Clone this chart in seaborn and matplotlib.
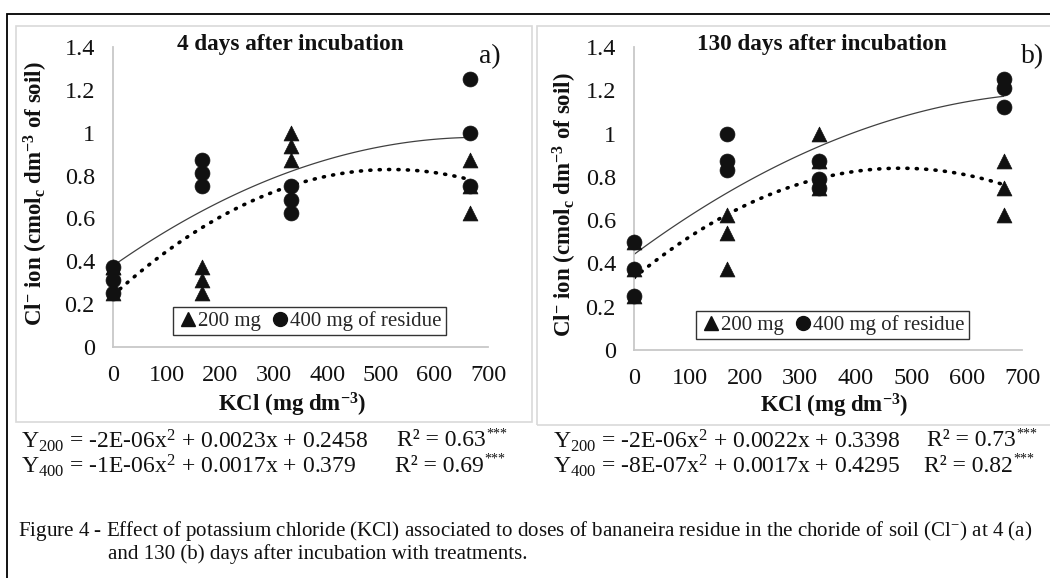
import numpy as np
import pandas as pd
import matplotlib
matplotlib.use("Agg")
import matplotlib.pyplot as plt
from matplotlib.patches import Rectangle
from matplotlib.lines import Line2D
import seaborn as sns

# ---------------- data ----------------
kcl_doses = [0, 167, 333, 667]          # mg dm-3 (3 replicates each)
n_reps = 3

a_200mg = [0.25, 0.375, 0.375, 0.375, 0.3125, 0.25, 1.0, 0.9375, 0.875, 0.875, 0.75, 0.625]
a_400mg = [0.375, 0.3125, 0.25, 0.875, 0.8125, 0.75, 0.75, 0.6875, 0.625, 1.25, 1.0, 0.75]
b_200mg = [0.5, 0.375, 0.25, 0.625, 0.5417, 0.375, 1.0, 0.875, 0.75, 0.875, 0.75, 0.625]
b_400mg = [0.5, 0.375, 0.25, 1.0, 0.875, 0.8333, 0.875, 0.7917, 0.75, 1.25, 1.2083, 1.125]

panel_titles = ["4 days after incubation", "130 days after incubation"]
panel_tags = ["a)", "b)"]
legend_labels = ["200 mg", "400 mg of residue"]
x_ticks = [0, 100, 200, 300, 400, 500, 600, 700]
y_ticks = [0, 0.2, 0.4, 0.6, 0.8, 1.0, 1.2, 1.4]
y_tick_labels = ["0", "0.2", "0.4", "0.6", "0.8", "1", "1.2", "1.4"]

eq_a = [r"Y$_{200}$ = -2E-06x$^{2}$ + 0.0023x + 0.2458", r"Y$_{400}$ = -1E-06x$^{2}$ + 0.0017x + 0.379"]
r2_a = ["R² = 0.63", "R² = 0.69"]
eq_b = [r"Y$_{200}$ = -2E-06x$^{2}$ + 0.0022x + 0.3398", r"Y$_{400}$ = -8E-07x$^{2}$ + 0.0017x + 0.4295"]
r2_b = ["R² = 0.73", "R² = 0.82"]
signif = "***"

caption1 = r"Figure 4 - Effect of potassium chloride (KCl) associated to doses of bananeira residue in the choride of soil (Cl$^{-}$) at 4 (a)"
caption2 = "and 130 (b) days after incubation with treatments."

# ---------------- style ----------------
sns.set_theme(style="white")
plt.rcParams["font.family"] = ["Liberation Serif", "DejaVu Serif"]
plt.rcParams["mathtext.fontset"] = "custom"
plt.rcParams["mathtext.rm"] = "Liberation Serif"
plt.rcParams["mathtext.it"] = "Liberation Serif:italic"
plt.rcParams["mathtext.bf"] = "Liberation Serif:bold"

W, H = 1050, 578
fig = plt.figure(figsize=(W / 100, H / 100), dpi=100)
fig.patch.set_facecolor("white")
INK = "#111111"


def fx(px):
    return px / W


def fy(py):
    return 1 - py / H


# outer black frame and gray panel frames
fig.add_artist(Rectangle((fx(7), fy(700)), 2.0, fy(14) - fy(700), transform=fig.transFigure,
                         fill=False, ec="black", lw=1.3))
fig.add_artist(Rectangle((fx(16), fy(422)), fx(532) - fx(16), fy(26) - fy(422), transform=fig.transFigure,
                         fill=False, ec="#d9d9d9", lw=1.2))
fig.add_artist(Rectangle((fx(537), fy(425)), fx(1080) - fx(537), fy(26) - fy(425), transform=fig.transFigure,
                         fill=False, ec="#d9d9d9", lw=1.2))

axes_px = [(113, 47, 488, 347), (634, 47, 1022, 350)]
panels = [(a_200mg, a_400mg), (b_200mg, b_400mg)]
title_pos = [(0.472, 1.008), (0.485, 1.008)]
tag_pos = [(1.005, 0.967), (1.028, 0.967)]
ylab_pos = [(-0.168, 0.51), (-0.143, 0.48)]
xlab_pos = [(0.477, -0.146), (0.515, -0.138)]
leg_pos = [(0.16, 0.04), (0.16, 0.036)]

x_all = np.repeat(kcl_doses, n_reps)

for i, (l, t, r, b) in enumerate(axes_px):
    ax = fig.add_axes([fx(l), fy(b), fx(r) - fx(l), fy(t) - fy(b)])
    v200, v400 = panels[i]
    df = pd.DataFrame({"KCl": np.concatenate([x_all, x_all]),
                       "Cl": np.concatenate([v200, v400]),
                       "dose": [legend_labels[0]] * len(v200) + [legend_labels[1]] * len(v400)})
    d200 = df[df["dose"] == legend_labels[0]]
    d400 = df[df["dose"] == legend_labels[1]]

    # regression curves (2nd order polynomial)
    sns.regplot(data=d200, x="KCl", y="Cl", order=2, ci=None, scatter=False, ax=ax,
                line_kws=dict(color="black", lw=2.6, linestyle=(0, (0.3, 2.3)), dash_capstyle="round"))
    sns.regplot(data=d400, x="KCl", y="Cl", order=2, ci=None, scatter=False, ax=ax,
                line_kws=dict(color="#404040", lw=0.9, linestyle="-"))

    sns.scatterplot(data=d200, x="KCl", y="Cl", marker="^", color=INK, s=115,
                    edgecolor=INK, linewidth=0.5, ax=ax, clip_on=False, zorder=4)
    sns.scatterplot(data=d400, x="KCl", y="Cl", marker="o", color=INK, s=115,
                    edgecolor=INK, linewidth=0.5, ax=ax, clip_on=False, zorder=5)

    ax.set_xlim(0, 700)
    ax.set_ylim(0, 1.4)
    ax.set_xticks(x_ticks)
    ax.set_yticks(y_ticks)
    ax.set_yticklabels(y_tick_labels)
    ax.tick_params(axis="both", length=0, labelsize=17.5, colors=INK)
    ax.tick_params(axis="y", pad=13)
    ax.tick_params(axis="x", pad=13)
    for s in ["top", "right"]:
        ax.spines[s].set_visible(False)
    for s in ["left", "bottom"]:
        ax.spines[s].set_color("#c8c8c8")
        ax.spines[s].set_linewidth(1.3)
    ax.set_facecolor("none")
    ax.grid(False)

    ax.set_ylabel(r"Cl$^{\mathbf{-}}$ ion (cmol$_{\mathbf{c}}$ dm$^{\mathbf{-3}}$ of soil)",
                  fontsize=16.5, fontweight="bold", color=INK)
    ax.yaxis.set_label_coords(*ylab_pos[i])
    ax.set_xlabel(r"KCl (mg dm$^{\mathbf{-3}}$)", fontsize=16.5, fontweight="bold", color=INK)
    ax.xaxis.set_label_coords(*xlab_pos[i])

    ax.text(title_pos[i][0], title_pos[i][1], panel_titles[i], transform=ax.transAxes,
            ha="center", va="center", fontsize=16.7, fontweight="bold", color=INK)
    ax.text(tag_pos[i][0], tag_pos[i][1], panel_tags[i], transform=ax.transAxes,
            ha="center", va="center", fontsize=20, color=INK)

    handles = [Line2D([], [], marker="^", color=INK, linestyle="none", markersize=10),
               Line2D([], [], marker="o", color=INK, linestyle="none", markersize=10)]
    leg = ax.legend(handles, legend_labels, loc="lower left", bbox_to_anchor=leg_pos[i], ncol=2,
                    frameon=True, fancybox=False, fontsize=15, handletextpad=0.0,
                    columnspacing=0.4, handlelength=1.0, borderpad=0.2, borderaxespad=0)
    leg.get_frame().set_edgecolor("black")
    leg.get_frame().set_linewidth(1.0)

# equations
EQ_FS = 17
r2_x = [(397, 395), (927, 924)]
for j in range(2):
    yy = fy(441 + 25 * j)
    fig.text(fx(21), yy, eq_a[j], fontsize=EQ_FS, va="center", ha="left", color=INK)
    fig.text(fx(553), yy, eq_b[j], fontsize=EQ_FS, va="center", ha="left", color=INK)
    for xpx, txt in [(r2_x[0][j], r2_a[j]), (r2_x[1][j], r2_b[j])]:
        tt = fig.text(fx(xpx), yy, txt, fontsize=EQ_FS, va="center", ha="left", color=INK)
        fig.add_artist(plt.Annotation(signif, xy=(1.0, 1.0), xycoords=tt, xytext=(0.5, 2),
                                      textcoords="offset points", ha="left", va="top",
                                      fontsize=10, color=INK))

fig.text(fx(18), fy(531), caption1, fontsize=15.1, va="center", ha="left", color=INK)
fig.text(fx(108), fy(554), caption2, fontsize=15.1, va="center", ha="left", color=INK)

fig.savefig("out.png", dpi=100, facecolor="white")
